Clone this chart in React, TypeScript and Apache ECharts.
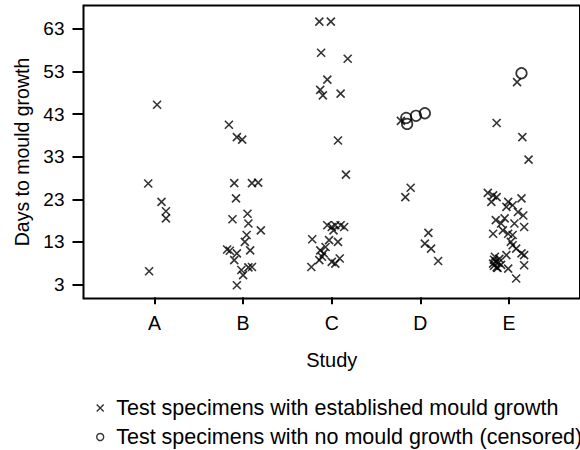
import React, { useEffect, useRef } from "react";
import * as echarts from "echarts";

const studies = ["A", "B", "C", "D", "E"];
const yTicks = [3, 13, 23, 33, 43, 53, 63];
const seriesNames = [
  "Test specimens with established mould growth",
  "Test specimens with no mould growth (censored)",
];

// [horizontal jitter offset from study position, days to mould growth]
const growthA = [[0.03, 45.2], [-0.07, 26.7], [0.08, 22.4], [0.13, 20.2], [0.13, 18.5], [-0.06, 6.1]];
const growthB = [
  [-0.16, 40.5], [-0.07, 37.6], [-0.01, 37.0], [-0.1, 26.8], [0.1, 26.8], [0.17, 26.9], [-0.08, 23.2],
  [-0.12, 18.3], [0.05, 19.6], [0.06, 17.3], [0.2, 15.7], [0.04, 14.6], [0.02, 13.0], [0.08, 11.0],
  [-0.18, 11.2], [-0.15, 10.9], [-0.07, 10.3], [-0.1, 8.7], [0.06, 7.0], [0.1, 7.1], [-0.02, 6.4],
  [0.0, 5.2], [-0.07, 2.8],
];
const growthC = [
  [-0.14, 64.7], [-0.01, 64.7], [-0.12, 57.4], [0.18, 56.0], [-0.05, 51.1], [-0.13, 48.7], [-0.1, 47.4],
  [0.1, 47.8], [0.07, 36.8], [0.16, 28.8], [-0.22, 13.6], [-0.05, 16.9], [0.0, 16.5], [0.04, 16.9],
  [0.1, 16.9], [0.14, 16.5], [0.02, 15.7], [-0.03, 13.4], [0.07, 13.0], [-0.07, 11.8], [-0.13, 11.0],
  [-0.09, 10.3], [-0.11, 9.5], [-0.14, 8.7], [0.0, 8.3], [0.09, 9.1], [-0.23, 7.1], [0.04, 7.9],
];
const growthD = [[-0.22, 41.4], [-0.11, 25.7], [-0.17, 23.5], [0.09, 15.1], [0.05, 12.6], [0.12, 11.4], [0.2, 8.5]];
const growthE = [
  [0.09, 50.5], [-0.14, 40.9], [0.15, 37.6], [0.22, 32.3], [-0.24, 24.5], [-0.18, 23.9], [-0.14, 23.5],
  [-0.2, 22.4], [-0.01, 22.4], [0.04, 21.6], [0.14, 23.2], [-0.03, 21.2], [0.1, 20.0], [0.16, 19.2],
  [-0.05, 18.5], [-0.15, 18.1], [-0.09, 17.3], [0.06, 17.3], [0.17, 16.5], [-0.18, 14.9], [-0.07, 15.7],
  [-0.01, 14.9], [0.04, 14.6], [0.02, 13.0], [0.04, 12.2], [0.08, 11.4], [0.14, 10.3], [0.17, 9.9],
  [-0.03, 9.9], [0.17, 7.5], [0.08, 4.4], [-0.18, 7.9], [-0.17, 7.4], [-0.15, 8.4], [-0.14, 7.0],
  [-0.12, 8.1], [-0.11, 9.0], [-0.16, 9.5], [-0.09, 7.6], [-0.13, 6.9], [-0.17, 8.8], [-0.01, 6.7],
];
const censoredD = [[-0.16, 42.1], [-0.15, 40.7], [-0.05, 42.6], [0.05, 43.2]];
const censoredE = [[0.14, 52.6]];

const growthByStudy = [growthA, growthB, growthC, growthD, growthE];
const censoredByStudy = [[], [], [], censoredD, censoredE];

const toPoints = (groups: number[][][]) =>
  groups.flatMap((g, i) => g.map(([off, v]) => [i + 1 + off, v]));

const CROSS = "path://M0,0L10,10M0,10L10,0";
const FONT = "'Liberation Sans', Arial, sans-serif";

export default function App() {
  const ref = useRef<HTMLDivElement>(null);
  useEffect(() => {
    if (!ref.current) return;
    const chart = echarts.init(ref.current, undefined, { renderer: "svg" });
    chart.setOption({
      animation: false,
      backgroundColor: "#fff",
      textStyle: { fontFamily: FONT },
      grid: {
        left: 83.5,
        right: -3,
        top: 5.5,
        bottom: 151.5,
        show: true,
        borderColor: "#000",
        borderWidth: 2,
        backgroundColor: "transparent",
      },
      xAxis: {
        type: "value",
        min: 0.2,
        max: 5.8,
        name: "Study",
        nameLocation: "middle",
        nameGap: 51,
        nameTextStyle: { color: "#000", fontSize: 20, fontFamily: FONT },
        axisLine: { show: false },
        axisTick: {
          show: true,
          length: 7,
          customValues: [1, 2, 3, 4, 5],
          lineStyle: { color: "#000", width: 2 },
        },
        axisLabel: {
          customValues: [1, 2, 3, 4, 5],
          formatter: (v: number) => studies[Math.round(v) - 1] ?? "",
          color: "#000",
          fontSize: 19.5,
          margin: 14,
          fontFamily: FONT,
        },
        splitLine: { show: false },
      },
      yAxis: {
        type: "value",
        min: -0.3,
        max: 68.5,
        name: "Days to mould growth",
        nameLocation: "middle",
        nameGap: 52,
        nameTextStyle: { color: "#000", fontSize: 19.5, fontFamily: FONT },
        axisLine: { show: false },
        axisTick: {
          show: true,
          length: 11,
          customValues: yTicks,
          lineStyle: { color: "#000", width: 2 },
        },
        axisLabel: {
          customValues: yTicks,
          color: "#000",
          fontSize: 19,
          margin: 19,
          fontFamily: FONT,
        },
        splitLine: { show: false },
      },
      legend: {
        orient: "vertical",
        left: 96,
        top: 397,
        padding: 0,
        itemGap: 7,
        itemWidth: 22,
        itemHeight: 7,
        textStyle: { color: "#000", fontSize: 21.5, fontFamily: FONT },
        data: [
          { name: seriesNames[0], icon: CROSS, itemStyle: { color: "rgba(0,0,0,0)", borderColor: "#000", borderWidth: 1.4 } },
          { name: seriesNames[1], icon: "circle", itemStyle: { color: "rgba(0,0,0,0)", borderColor: "#000", borderWidth: 1.4 } },
        ],
      },
      series: [
        {
          name: seriesNames[0],
          type: "scatter",
          symbol: CROSS,
          symbolSize: 8,
          itemStyle: { color: "rgba(0,0,0,0)", borderColor: "#000", borderWidth: 1.6 },
          data: toPoints(growthByStudy),
        },
        {
          name: seriesNames[1],
          type: "scatter",
          symbol: "circle",
          symbolSize: 10.5,
          itemStyle: { color: "rgba(0,0,0,0)", borderColor: "#000", borderWidth: 1.7 },
          data: toPoints(censoredByStudy),
        },
      ],
    });
    return () => chart.dispose();
  }, []);
  return (
    <div
      ref={ref}
      style={{ position: "fixed", left: 0, top: 0, width: 580, height: 450 }}
    />
  );
}
